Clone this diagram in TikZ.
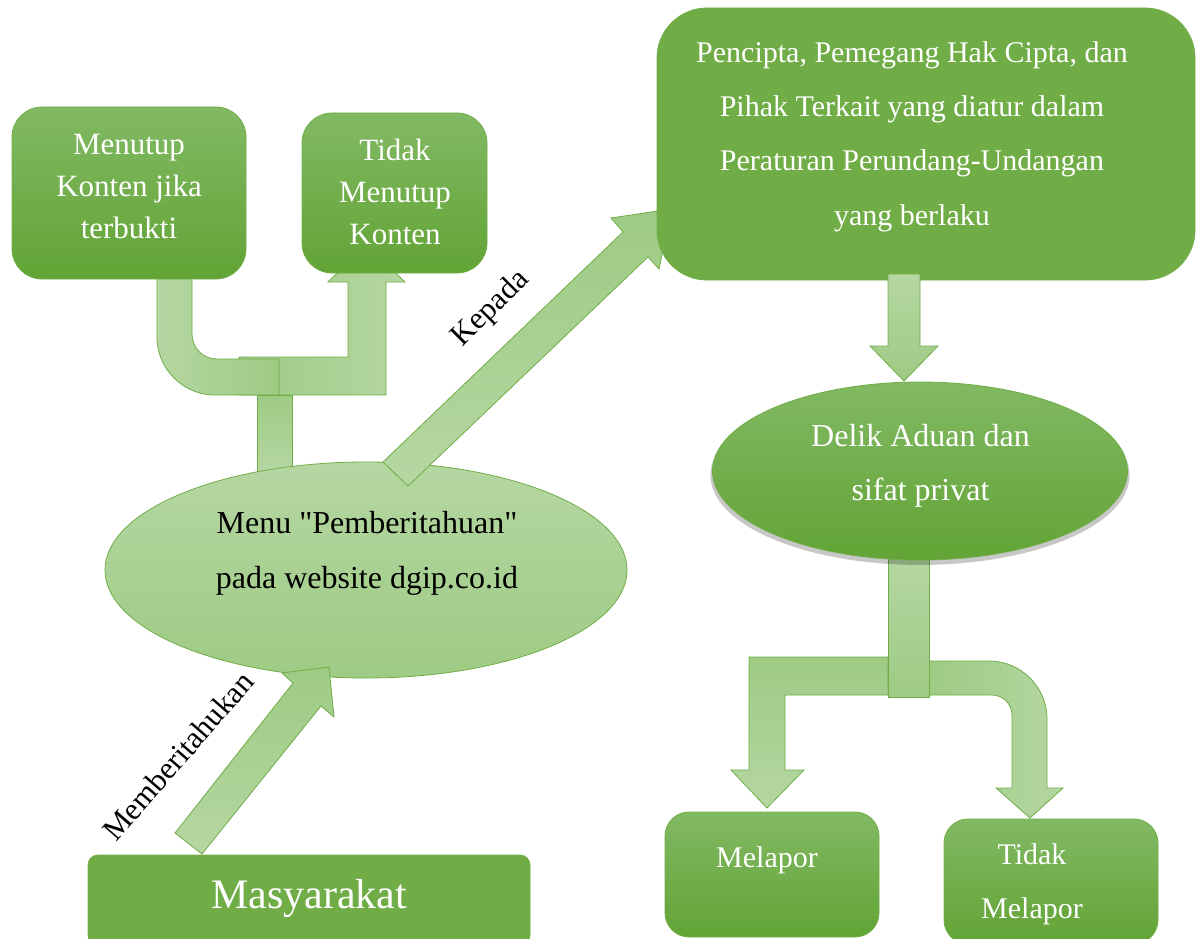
\documentclass[tikz,border=0pt]{standalone}
\usepackage{fontspec}
\setmainfont{Liberation Serif}[Ligatures=TeXOff]
\usetikzlibrary{shapes.geometric,shadows}
\definecolor{gtop}{HTML}{82B964}
\definecolor{gbot}{HTML}{62A435}
\definecolor{gmid}{HTML}{70AD47}
\definecolor{ltop}{HTML}{B5D7A2}
\definecolor{lbot}{HTML}{9ECB84}
\definecolor{edge}{HTML}{70AD47}
\tikzset{
  box/.style={draw=edge, line width=0.8pt, top color=gtop, bottom color=gbot, rounded corners=30pt, inner sep=0pt},
  solidbox/.style={draw=edge, line width=0.8pt, fill=gmid, inner sep=0pt},
  blk/.style={draw=edge, line width=0.8pt},
  wtxt/.style={text=white, align=center, inner sep=0pt, font=\fontsize{31}{42}\selectfont},
  btxt/.style={text=black, align=center, inner sep=0pt, font=\fontsize{31}{42}\selectfont},
}
\begin{document}
\begin{tikzpicture}[x=1pt,y=-1pt]
\useasboundingbox (0,0) rectangle (1200,939);

% ---- top-left block arrows ----
\draw[blk, left color=lbot, right color=ltop] (239,357) -- (348,357) -- (348,282) -- (328,282) -- (366,245) -- (405,282) -- (386,282) -- (386,395) -- (239,395) -- cycle;
\draw[blk, left color=ltop, right color=lbot] (157,270) -- (157,337) .. controls (157,369) and (183,395) .. (215,395) -- (279,395) -- (279,359) -- (217,359) .. controls (203,359) and (192,348) .. (192,334) -- (192,270) -- cycle;
\draw[blk, top color=lbot, bottom color=ltop] (257,395) rectangle (292,472);

% ---- boxes top-left ----
\node[box, minimum width=234pt, minimum height=172pt] (b1) at (129,193) {};
\node[wtxt] (b1t) at (129,187) {Menutup\\Konten jika\\terbukti};
\node[box, minimum width=185pt, minimum height=160pt] (b2) at (394.5,193) {};
\node[wtxt] (b2t) at (395,192) {Tidak\\Menutup\\Konten};

% ---- Menu ellipse ----
\node[ellipse, draw=edge, line width=0.8pt, top color=ltop, bottom color=lbot, minimum width=522pt, minimum height=216pt, inner sep=0pt] (menu) at (366,570) {};
\node[btxt, font=\fontsize{32}{55}\selectfont] (menut) at (367,553) {Menu "Pemberitahuan"\\pada website dgip.co.id};

% ---- Kepada arrow ----
\draw[blk, top color=lbot, bottom color=ltop] (383,462) -- (623,232) -- (611,218) -- (671,209) -- (659,269) -- (648,257) -- (408,486) -- cycle;
\node[btxt, rotate=45] (kep) at (491,309) {Kepada};

% ---- big box ----
\node[solidbox, rounded corners=50pt, minimum width=538pt, minimum height=272pt] (big) at (926,144) {};
\node[wtxt, font=\fontsize{30}{54.3}\selectfont] (bigt) at (912,136.5) {Pencipta, Pemegang Hak Cipta, dan\\Pihak Terkait yang diatur dalam\\Peraturan Perundang-Undangan\\yang berlaku};

% ---- down arrow ----
\draw[blk, top color=ltop, bottom color=lbot] (888,274) -- (888,346) -- (870,346) -- (904,381) -- (938,346) -- (920,346) -- (920,274) -- cycle;

% ---- bottom split arrows ----
\draw[blk, top color=lbot, bottom color=ltop] (888,657) -- (749,657) -- (749,770) -- (731,770) -- (767,808) -- (804,770) -- (785,770) -- (785,695) -- (888,695) -- cycle;
\draw[blk, left color=lbot, right color=ltop] (929,661) -- (989,661) .. controls (1021,661) and (1047,687) .. (1047,719) -- (1047,788) -- (1063,788) -- (1030,818) -- (996,788) -- (1012,788) -- (1012,715) .. controls (1012,704) and (1003,695) .. (992,695) -- (929,695) -- cycle;
\draw[blk, top color=ltop, bottom color=lbot] (888,555) rectangle (929,697);

% ---- Delik ellipse ----
\node[ellipse, draw=edge, line width=0.8pt, top color=gtop, bottom color=gbot, minimum width=415pt, minimum height=178pt, inner sep=0pt,
      drop shadow={shadow xshift=0pt, shadow yshift=-4pt, shadow scale=1.01, opacity=0.22, fill=black}] (del) at (920,471) {};
\node[wtxt, font=\fontsize{32}{54}\selectfont] (delt) at (920.5,465.5) {Delik Aduan dan\\sifat privat};

% ---- Melapor boxes ----
\node[box, rounded corners=24pt, minimum width=214pt, minimum height=125pt] (mel) at (772,874.5) {};
\node[wtxt, font=\fontsize{30}{54}\selectfont] (melt) at (767,860) {Melapor};
\node[box, rounded corners=24pt, minimum width=214pt, minimum height=125pt] (tmel) at (1051,881.5) {};
\node[wtxt, font=\fontsize{30}{54}\selectfont] (tmelt) at (1032,884) {Tidak\\Melapor};

% ---- Memberitahukan arrow ----
\draw[blk, top color=lbot, bottom color=ltop] (175,833) -- (293,683) -- (282,673) -- (329,667) -- (334,717) -- (321,706) -- (202,854) -- cycle;
\node[btxt, rotate=49] (mem) at (178,756) {Memberitahukan};

% ---- Masyarakat ----
\node[solidbox, rounded corners=10pt, minimum width=442pt, minimum height=90pt] (mas) at (309,900) {};
\node[wtxt, font=\fontsize{42}{50}\selectfont] (mast) at (309,898) {Masyarakat};
\end{tikzpicture}
\end{document}
